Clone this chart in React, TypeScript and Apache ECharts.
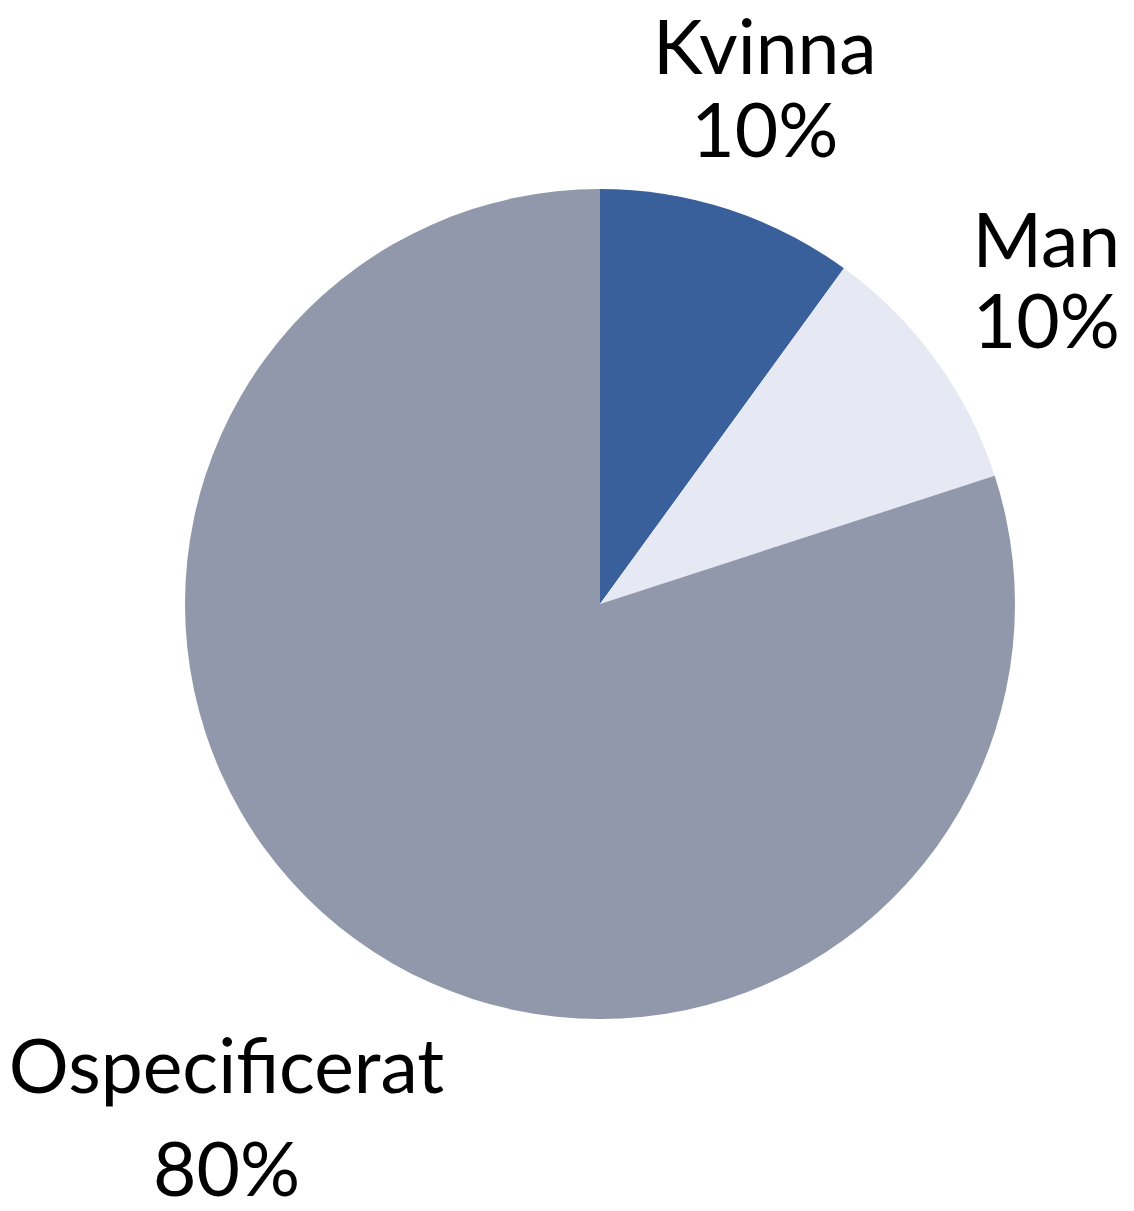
import React, { useEffect, useRef } from "react";
import * as echarts from "echarts";

const categories = ["Kvinna", "Man", "Ospecificerat"];
const values = [10, 10, 80];
const colors = ["#3A609C", "#E6E9F3", "#9198AB"];
const labelRadius = [540, 554, 632];
const nameLineHeights = [76, 81, 103];
const valueLineHeights = [90, 81, 103];

const CX = 600;
const CY = 604;

export default function App() {
  const ref = useRef<HTMLDivElement>(null);
  useEffect(() => {
    if (!ref.current) return;
    const chart = echarts.init(ref.current, undefined, { renderer: "svg" });
    const total = values.reduce((a, b) => a + b, 0);
    const midAngles: number[] = [];
    let acc = 0;
    values.forEach((v) => {
      midAngles.push(((acc + v / 2) / total) * Math.PI * 2);
      acc += v;
    });
    chart.setOption({
      animation: false,
      backgroundColor: "#ffffff",
      textStyle: { fontFamily: "Lato" },
      series: [
        {
          type: "pie",
          center: [CX, CY],
          radius: [0, 415],
          startAngle: 90,
          clockwise: true,
          avoidLabelOverlap: false,
          itemStyle: { borderWidth: 0 },
          labelLine: { show: false },
          label: {
            show: true,
            position: "outside",
            formatter: "{n|{b}}\n{v|{d}%}",
            fontFamily: "Lato",
            fontSize: 75,
            color: "#000000",
            align: "center",
          },
          labelLayout: (params: any) => {
            const i = params.dataIndex;
            const a = midAngles[i];
            return {
              x: CX - 2 + labelRadius[i] * Math.sin(a),
              y: CY - labelRadius[i] * Math.cos(a),
              align: "center",
              verticalAlign: "middle",
            };
          },
          emphasis: { disabled: true },
          data: categories.map((name, i) => ({
            name,
            value: values[i],
            itemStyle: { color: colors[i] },
            label: {
              rich: {
                n: {
                  fontFamily: "Lato",
                  fontSize: 75,
                  color: "#000000",
                  lineHeight: nameLineHeights[i],
                  align: "center",
                },
                v: {
                  fontFamily: "Lato",
                  fontSize: 75,
                  color: "#000000",
                  lineHeight: valueLineHeights[i],
                  align: "center",
                },
              },
            },
          })),
        },
      ],
    });
    return () => chart.dispose();
  }, []);
  return (
    <div
      ref={ref}
      style={{ position: "fixed", left: 0, top: 0, width: 1134, height: 1211 }}
    />
  );
}
